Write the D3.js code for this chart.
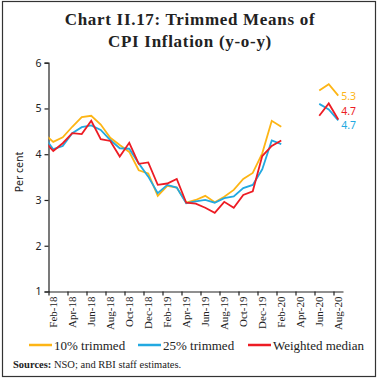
<!DOCTYPE html>
<html>
<head>
<meta charset="utf-8">
<script src="https://cdn.jsdelivr.net/npm/d3@7"></script>
<style>
  body { margin: 0; background: #fff; }
  svg { display: block; }
</style>
</head>
<body>
<div id="chart"></div>
<script>
// months, Jan-18 sits just left of the axis and gets clipped
const categories = ["Jan-18", "Feb-18", "Mar-18", "Apr-18", "May-18", "Jun-18", "Jul-18", "Aug-18",
  "Sep-18", "Oct-18", "Nov-18", "Dec-18", "Jan-19", "Feb-19", "Mar-19", "Apr-19", "May-19",
  "Jun-19", "Jul-19", "Aug-19", "Sep-19", "Oct-19", "Nov-19", "Dec-19", "Jan-20", "Feb-20",
  "Mar-20", "Apr-20", "May-20", "Jun-20", "Jul-20", "Aug-20"];

const trimmed10 = [4.45, 4.27, 4.37, 4.60, 4.81, 4.84, 4.65, 4.36, 4.20, 4.05, 3.65, 3.58,
  3.09, 3.31, 3.27, 2.94, 3.00, 3.09, 2.95, 3.07, 3.22, 3.46, 3.59, 4.02, 4.73, 4.60,
  null, null, null, 5.39, 5.53, 5.28];
const trimmed25 = [4.39, 4.11, 4.18, 4.46, 4.59, 4.63, 4.53, 4.31, 4.13, 4.12, 3.80, 3.51,
  3.15, 3.33, 3.27, 2.93, 2.97, 3.00, 2.94, 3.04, 3.08, 3.26, 3.33, 3.67, 4.30, 4.22,
  null, null, null, 5.10, 4.98, 4.74];
const weightedMedian = [4.30, 4.07, 4.24, 4.46, 4.44, 4.73, 4.33, 4.29, 3.95, 4.25, 3.79, 3.82,
  3.33, 3.36, 3.46, 2.94, 2.92, 2.83, 2.72, 2.96, 2.83, 3.11, 3.19, 3.96, 4.18, 4.30,
  null, null, null, 4.84, 5.11, 4.76];

const yTicks = [1, 2, 3, 4, 5, 6];
const endLabels = ["5.3", "4.7", "4.7"];

const series = [
  { name: "10% trimmed", values: trimmed10, color: "#FDB515", label: endLabels[0], dy: 4.5 },
  { name: "25% trimmed", values: trimmed25, color: "#22A9E1", label: endLabels[2], dy: 8.5 },
  { name: "Weighted median", values: weightedMedian, color: "#ED1C24", label: endLabels[1], dy: -4 }
];

const W = 380, H = 382;
const svg = d3.select("#chart").append("svg")
  .attr("width", W)
  .attr("height", H);

// outer frame
svg.append("rect")
  .attr("x", 2.5).attr("y", 1.5)
  .attr("width", 373).attr("height", 375)
  .attr("fill", "none")
  .attr("stroke", "#333")
  .attr("stroke-width", 1.2);

// title
const title = svg.append("text")
  .attr("text-anchor", "middle")
  .attr("font-family", "Liberation Serif, serif")
  .attr("font-weight", "bold")
  .attr("font-size", 17)
  .attr("letter-spacing", 0.7)
  .attr("fill", "#222");
title.append("tspan").attr("x", 190).attr("y", 25).text("Chart II.17: Trimmed Means of");
title.append("tspan").attr("x", 190).attr("y", 47).text("CPI Inflation (y-o-y)");

const plotLeft = 48.5, plotRight = 343, plotTop = 62.7, plotBottom = 291.5;

const x = d3.scaleLinear().domain([0.5, categories.length - 0.5]).range([plotLeft, plotRight]);
const y = d3.scaleLinear().domain([1, 6]).range([plotBottom, plotTop]);

// clip so the Jan-18 point only shows as the stub at the axis
svg.append("clipPath").attr("id", "plot")
  .append("rect")
  .attr("x", plotLeft).attr("y", 0)
  .attr("width", plotRight - plotLeft).attr("height", H);

// y axis
const yAxis = svg.append("g")
  .attr("transform", `translate(${plotLeft},0)`)
  .call(d3.axisLeft(y).tickValues(yTicks).tickSize(4).tickPadding(3).tickFormat(d3.format("d")));
yAxis.select(".domain").attr("stroke", "#222").attr("stroke-width", 1.2);
yAxis.selectAll(".tick line").attr("stroke", "#222").attr("stroke-width", 1.2);
yAxis.selectAll("text")
  .attr("font-family", "Noto Sans, sans-serif")
  .attr("font-size", 10.5)
  .attr("fill", "#222");

// x axis: ticks at boundaries every two months, labels centred on the month
const tickIdx = d3.range(1, categories.length, 2);
const xAxis = svg.append("g")
  .attr("transform", `translate(0,${plotBottom})`)
  .call(d3.axisBottom(x).tickValues(tickIdx.map(i => i - 0.5)).tickSize(4).tickSizeOuter(0).tickFormat(""));
xAxis.select(".domain").attr("stroke", "#222").attr("stroke-width", 1.2);
xAxis.selectAll(".tick line").attr("stroke", "#222").attr("stroke-width", 1.2);

svg.append("g")
  .selectAll("text")
  .data(tickIdx)
  .enter().append("text")
  .attr("transform", i => `translate(${x(i) + 3.5},${plotBottom + 5}) rotate(-90)`)
  .attr("text-anchor", "end")
  .attr("font-family", "Liberation Serif, serif")
  .attr("font-size", 11)
  .attr("fill", "#222")
  .text(i => categories[i]);

// y label
svg.append("text")
  .attr("transform", "translate(23,172) rotate(-90)")
  .attr("text-anchor", "middle")
  .attr("font-family", "Noto Sans, sans-serif")
  .attr("font-size", 10.5)
  .attr("fill", "#222")
  .text("Per cent");

// lines
const line = d3.line()
  .defined(d => d != null)
  .x((d, i) => x(i))
  .y(d => y(d));

svg.append("g")
  .attr("clip-path", "url(#plot)")
  .selectAll("path")
  .data(series)
  .enter().append("path")
  .attr("fill", "none")
  .attr("stroke", d => d.color)
  .attr("stroke-width", 1.8)
  .attr("stroke-linejoin", "miter")
  .attr("d", d => line(d.values));

// end labels
const last = categories.length - 1;
svg.append("g")
  .selectAll("text")
  .data(series)
  .enter().append("text")
  .attr("x", x(last) + 3)
  .attr("y", d => y(d.values[last]) + d.dy)
  .attr("font-family", "Noto Sans, sans-serif")
  .attr("font-size", 10.5)
  .attr("fill", d => d.color)
  .text(d => d.label);

// legend
const legendX = [29, 138, 248];
const legend = svg.append("g")
  .selectAll("g")
  .data(series)
  .enter().append("g")
  .attr("transform", (d, i) => `translate(${legendX[i]},345)`);

legend.append("line")
  .attr("x1", 0).attr("x2", 23)
  .attr("stroke", d => d.color)
  .attr("stroke-width", 2.5);

legend.append("text")
  .attr("x", 25)
  .attr("y", 4.5)
  .attr("font-family", "Liberation Serif, serif")
  .attr("font-size", 13)
  .attr("fill", "#222")
  .text(d => d.name);

// source note
const src = svg.append("text")
  .attr("x", 13).attr("y", 368)
  .attr("font-family", "Liberation Serif, serif")
  .attr("font-size", 10.5)
  .attr("fill", "#222");
src.append("tspan").attr("font-weight", "bold").text("Sources: ");
src.append("tspan").text("NSO; and RBI staff estimates.");
</script>
</body>
</html>
